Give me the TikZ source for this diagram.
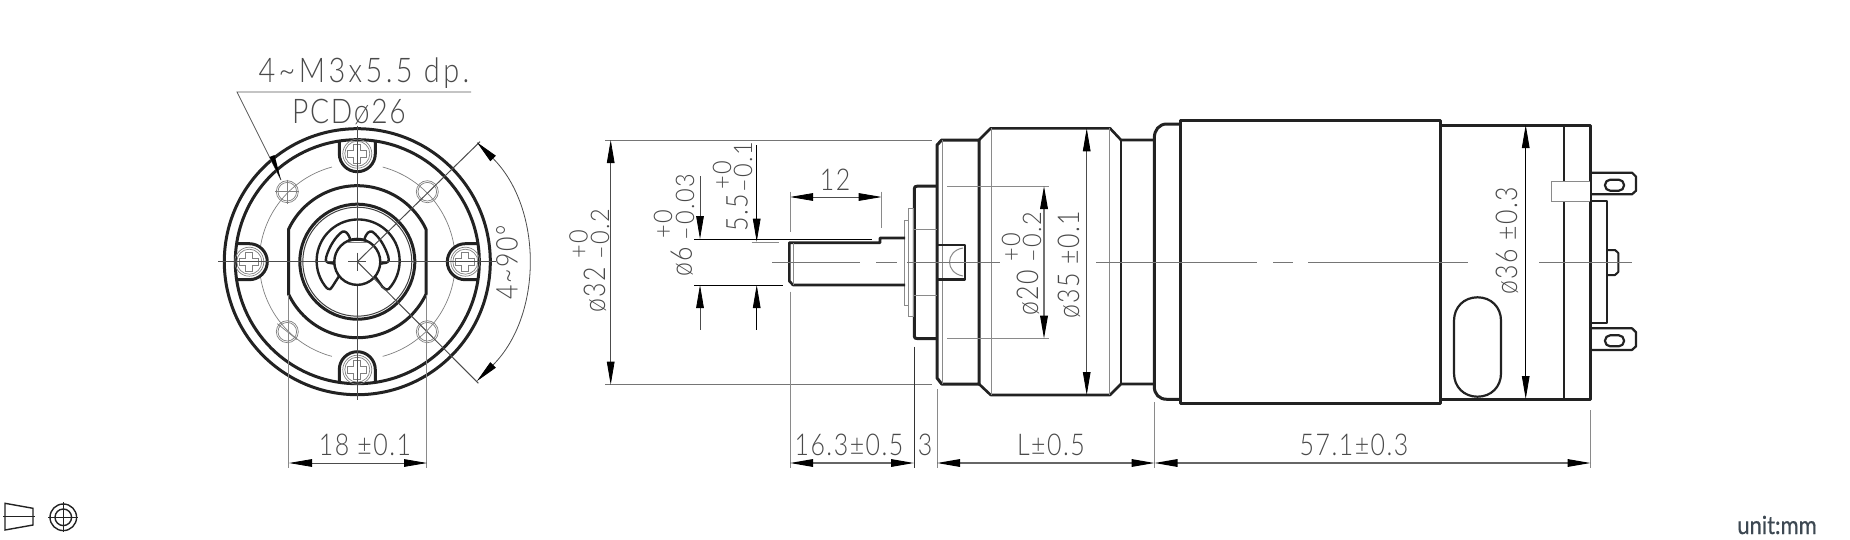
\documentclass[tikz,border=0pt]{standalone}
\usepackage{fontspec}
\usetikzlibrary{arrows.meta}
\newfontfamily\cad{Lato Light}[FakeStretch=0.83,LetterSpace=5]
\newfontfamily\cadtol{Lato Light}[FakeStretch=0.92,LetterSpace=6]
\newfontfamily\cadwide{Lato Light}[FakeStretch=0.85,LetterSpace=10]
\newfontfamily\unitfont{Lato}[FakeStretch=0.88,FakeBold=0.6]
\definecolor{ink}{HTML}{222222}
\definecolor{thingray}{HTML}{8A8A8A}
\definecolor{txtgray}{HTML}{4A4A4A}
\definecolor{unitcol}{HTML}{3D4852}
\tikzset{
  x=0.5pt,y=-0.5pt,
  heavy/.style={line width=1.5pt,draw=ink,line join=round},
  medium/.style={line width=1pt,draw=ink,line join=round},
  fine/.style={line width=0.5pt,draw=thingray},
  hair/.style={line width=0.35pt,draw=black!50},
  ctr/.style={line width=0.5pt,draw=thingray!85!black},
  dimblack/.style={line width=0.4pt,draw=black},
  dimtip/.tip={Triangle[length=11.5pt,width=3.8pt,color=black]},
  dimend/.style={dimtip-dimtip},
  dimone/.style={dimtip-},
  lab/.style={font=\cad\fontsize{15}{15}\selectfont,text=txtgray,inner sep=0pt},
  labv/.style={lab,rotate=90},
  tolv/.style={font=\cadtol\fontsize{12.8}{12.8}\selectfont,text=txtgray,inner sep=0pt,rotate=90},
}
\begin{document}
\begin{tikzpicture}
\useasboundingbox (0,0) rectangle (1850,540);
\fill[white] (0,0) rectangle (1850,540);

% ---------- front view ----------
\begin{scope}[shift={(357.3,261.7)},x=0.5pt,y=0.5pt]
  \draw[heavy] (0,0) circle[radius=133];
  \draw[heavy] (0,0) circle[radius=122];
  \foreach \a/\b in {9/75,105/171,189/255,285/351}
    \draw[hair] (\a:98) arc[start angle=\a,end angle=\b,radius=98];
  \foreach \r in {0,90,180,270}{
    \begin{scope}[rotate=\r]
      \draw[heavy] (-18,120.7) -- (-18,108) arc[start angle=180,end angle=360,radius=18] -- (18,120.7);
      \draw[hair] (0,108) circle[radius=14.5];
      \draw[hair] (0,108) circle[radius=12.5];
      \draw[hair] (-3.5,117.5) -- (3.5,117.5) -- (3.5,111.5) -- (9.5,111.5) -- (9.5,104.5) -- (3.5,104.5) -- (3.5,98.5) -- (-3.5,98.5) -- (-3.5,104.5) -- (-9.5,104.5) -- (-9.5,111.5) -- (-3.5,111.5) -- cycle;
    \end{scope}}
  \draw[heavy] (25.2:76) arc[start angle=25.2,end angle=154.8,radius=76] -- (-154.8:76) arc[start angle=205.2,end angle=334.8,radius=76] -- cycle;
  \draw[heavy] (0,0) circle[radius=57.5];
  \draw[line width=0.5pt,draw=black!75] (0,0) circle[radius=54.5];
  % retaining clip
  \draw[medium,line width=1.2pt] (-30,-27) arc[start angle=222,end angle=-42,radius=41.5]
     .. controls (29,-29) and (27,-27) .. (25,-25) -- (18,-15);
  \draw[medium,line width=1.2pt] (-30,-27) .. controls (-28,-29) and (-26,-27) .. (-25,-25) -- (-18,-14);
  \draw[medium,line width=1.2pt] (-23,-2) -- (-29,-1) .. controls (-32,0) and (-32,3) .. (-31,5)
     .. controls (-28,15) and (-22,25) .. (-15,30) .. controls (-12,31) and (-9,29) .. (-7,22);
  \draw[medium,line width=1.2pt] (23,-2) -- (29,-1) .. controls (32,0) and (32,3) .. (31,5)
     .. controls (28,15) and (22,25) .. (15,30) .. controls (12,31) and (9,29) .. (7,22);
  \draw[medium,line width=1.2pt] (-9,21) arc[start angle=113,end angle=-247+0,radius=23];
  \draw[medium,line width=1.2pt] (-9,21) .. controls (-4,22.5) and (4,22.5) .. (9,21);
  \draw[hair] (-10,19.5) -- (10,19.5);
  % hole circles
  \foreach \hx/\hy in {-70/70,70/70,-70/-70,70/-70}{
    \draw[hair] (\hx,\hy) circle[radius=11];
    \draw[hair] (\hx,\hy) circle[radius=9.3];
  }
  \draw[hair] (-82,70) -- (-58,70) (-70,82) -- (-70,58);
  \draw[hair] (-80,-62) -- (-60,-78);
  % centre lines
  \draw[ctr,draw=black!70] (-139,0) -- (-24,0) (-9,0) -- (9,0) (24,0) -- (139,0);
  \draw[ctr,draw=black!70] (0,136) -- (0,24) (0,9) -- (0,-9) (0,-24) -- (0,-138);
  % 4~90 dimension
  \coordinate (angU) at (122.7,120);
  \coordinate (angL) at (121,-121.5);
  \draw[ctr,draw=black!70] (0,0) -- (angU);
  \draw[ctr,draw=black!70] (0,0) -- (angL);
  \draw[dimblack,draw=black!70,dimend] (45:169) arc[start angle=45,end angle=-45,radius=169];
  % 18 dimension extension lines
  \draw[fine] (-69,-33) -- (-69,-206.3);
  \draw[fine] (69,-33) -- (69,-206.3);
\end{scope}

\coordinate (leadR) at (471,92);
\coordinate (leadL) at (237,92);
\coordinate (leadT) at (281,180);
\draw[dimblack,draw=black!65] (leadR) -- (leadL) -- (leadT);
\fill[black] (281,180) -- (269.5,157) -- (274.5,155) -- cycle;
\draw[dimblack,draw=black!70,dimend] (289,463) -- (427,463);

\node[lab,font=\cadwide\fontsize{17}{17}\selectfont] (tHole) at (364,73) {4\textasciitilde M3x5.5 dp.};
\node[lab,font=\cad\fontsize{17}{17}\selectfont] (tPcd) at (349,112) {PCDø26};
\node[labv] (tAng) at (507,262) {4\textasciitilde 90°};
\node[lab] (t18) at (365,445) {18 ±0.1};

% ---------- side view ----------
% gearbox body
\draw[heavy,line width=1.3pt] (979,140) -- (990.7,128.3) -- (1110,128.3) -- (1121,140) -- (1153,140);
\draw[heavy,line width=1.3pt] (979,384) -- (990.7,395) -- (1110,395) -- (1121,384) -- (1153,384);
\draw[fine] (991.7,128.3) -- (991.7,395);
\draw[fine] (1109,128.3) -- (1109,395);
\draw[medium] (1121,140) -- (1121,384);
% flange
\draw[heavy] (937,145) -- (941.7,140) -- (979,140) -- (979,384) -- (941.7,384) -- (937,378) -- cycle;
\draw[fine] (942.7,140) -- (942.7,384);
\draw[heavy] (937,186) -- (918,186) .. controls (915,186) and (914.3,187) .. (914.3,189) -- (914.3,336) .. controls (914.3,338) and (915,338.7) .. (918,338.7) -- (937,338.7);
\draw[fine] (914.3,229) -- (937,229) (914.3,295) -- (937,295);
% washers
\draw[fine] (904.3,220) rectangle (908.7,305);
\draw[fine] (908.7,208) rectangle (913.3,316);
% shaft
\draw[heavy,line width=1.3pt] (905,238) -- (880,238) -- (880,242.7) -- (789.3,242.7) -- (789.3,281) -- (793,285) -- (905,285);
\draw[fine] (793,243) -- (793,285);
% key
\draw[heavy,line width=1.2pt] (937,245) -- (965,245) -- (965,279.3) -- (937,279.3);
\draw[fine] (963,248) .. controls (945,251) and (945,273) .. (963,276);
% motor front cap
\draw[heavy] (1180,124) -- (1167,124) .. controls (1159,124) and (1154.3,130) .. (1154.3,138) -- (1154.3,386.7) .. controls (1154.3,394) and (1159,399.3) .. (1167,399.3) -- (1180,399.3);
% motor can
\draw[heavy] (1180,120.7) rectangle (1440.7,403);
% end bell
\draw[heavy] (1440.7,125) -- (1590,125) -- (1590,399) -- (1440.7,399);
\draw[heavy,line width=1.1pt] (1564,125) -- (1564,399);
\draw[heavy,line width=1.1pt] (1477.5,297.3) .. controls (1464,297.3) and (1454,307) .. (1454,320.8) -- (1454,373.2) .. controls (1454,387) and (1464,396.7) .. (1477.5,396.7) .. controls (1491,396.7) and (1501,387) .. (1501,373.2) -- (1501,320.8) .. controls (1501,307) and (1491,297.3) .. (1477.5,297.3) -- cycle;
\draw[fine,fill=white] (1590,181.7) -- (1551,181.7) -- (1551,201) -- (1590,201);
% terminals
\foreach \ty in {172.7,328.3}{
  \draw[heavy,line width=1.1pt] (1590,\ty) -- (1632,\ty) -- (1636,\ty+4) -- (1636,\ty+18) -- (1632,\ty+21.6) -- (1590,\ty+21.6);
  \draw[heavy,line width=1.1pt,rounded corners=2.6pt] (1605,\ty+7) rectangle (1624,\ty+18);
}
\draw[medium] (1590,201) -- (1606.7,201) -- (1606.7,322.7) -- (1590,322.7);
\draw[medium] (1606.7,250) -- (1615,250) -- (1618.3,253) -- (1618.3,272) -- (1615,275) -- (1606.7,275);

% centre line
\draw[ctr] (772,262) -- (860,262) (876,262) -- (897,262) (907,262) -- (1000,262) (1096,262) -- (1257,262) (1273,262) -- (1293,262) (1308,262) -- (1468,262) (1539,262) -- (1632,262);

% dimensions
\draw[ctr] (605,140) -- (932,140);
\draw[ctr] (605,384.7) -- (932,384.7);
\draw[dimblack,draw=black!70,dimend] (610.7,140) -- (610.7,384.7);
\draw[dimblack] (694,239) -- (871.7,239);
\draw[dimblack] (694,285) -- (783,285);
\draw[fine] (751.7,242.7) -- (779,242.7);
\draw[dimblack,draw=black!70,dimone] (700,239) -- (700,176);
\draw[dimblack,draw=black!70,dimone] (700,285) -- (700,330);
\draw[dimblack,dimone] (756.7,241.7) -- (756.7,145);
\draw[dimblack,dimone] (756.7,285) -- (756.7,330);
\draw[dimblack,draw=black!70,dimend] (790,197) -- (881.7,197);
\draw[fine] (790,191.7) -- (790,231.7) (790,291.7) -- (790,468);
\draw[fine] (881.7,191.7) -- (881.7,228);
\draw[fine] (947,186) -- (1049,186) (947,338.7) -- (1049,338.7);
\draw[line width=0.7pt,draw=black!55,dimend] (1044,186) -- (1044,338.7);
\draw[dimblack,draw=black!70,dimend] (1086.7,128.3) -- (1086.7,395);
\draw[dimblack,dimend] (1525.7,125) -- (1525.7,399);

\draw[dimblack,draw=black!80] (914,346.7) -- (914,468);
\draw[fine] (937,389) -- (937,468);
\draw[fine] (1154.5,402) -- (1154.5,468);
\draw[fine] (1590.5,410) -- (1590.5,468);
\draw[line width=0.6pt,draw=black!60,dimend] (790,463) -- (914,463);
\draw[line width=0.6pt,draw=black!60,dimend] (937,463) -- (1154.5,463);
\draw[line width=0.6pt,draw=black!60,dimend] (1154.5,463) -- (1590.5,463);

\node[labv] (d32) at (595,290) {ø32};
\node[tolv] (d32p) at (578.5,244) {+0};
\node[tolv] (d32m) at (600,234) {–0.2};
\node[labv] (d6) at (681.7,262) {ø6};
\node[tolv] (d6p) at (663,224) {+0};
\node[tolv] (d6m) at (685,207) {–0.03};
\node[labv] (d55) at (737,213) {5.5};
\node[tolv] (d55p) at (722,175) {+0};
\node[tolv] (d55m) at (743,167) {–0.1};
\node[lab] (d12) at (835,180) {12};
\node[labv] (d20) at (1028,293) {ø20};
\node[tolv] (d20p) at (1011,247) {+0};
\node[tolv] (d20m) at (1032,237) {–0.2};
\node[labv] (d35) at (1069,265) {ø35 ±0.1};
\node[labv] (d36) at (1507,241) {ø36 ±0.3};
\node[lab] (l163) at (849,445) {16.3±0.5};
\node[lab] (l3) at (925,445) {3};
\node[lab] (lL) at (1051,445) {L±0.5};
\node[lab] (l571) at (1354,445) {57.1±0.3};

% tolerance symbols
\draw[line width=0.7pt,draw=ink] (5,503.3) -- (33,508.3) -- (33,525) -- (5,530) -- cycle;
\draw[line width=0.7pt,draw=ink] (3.3,516.7) -- (35,516.7);
\draw[line width=0.7pt,draw=ink] (63.3,517.3) circle[radius=13.3];
\draw[line width=0.7pt,draw=ink] (63.3,517.3) circle[radius=8.3];
\draw[line width=0.5pt,draw=ink] (48.3,517.3) -- (78.3,517.3) (63.3,502.3) -- (63.3,532.3);
\node[font=\unitfont\fontsize{12.5}{12.5}\selectfont,text=unitcol,inner sep=0pt] (unit) at (1777,525) {unit:mm};
\end{tikzpicture}
\end{document}
